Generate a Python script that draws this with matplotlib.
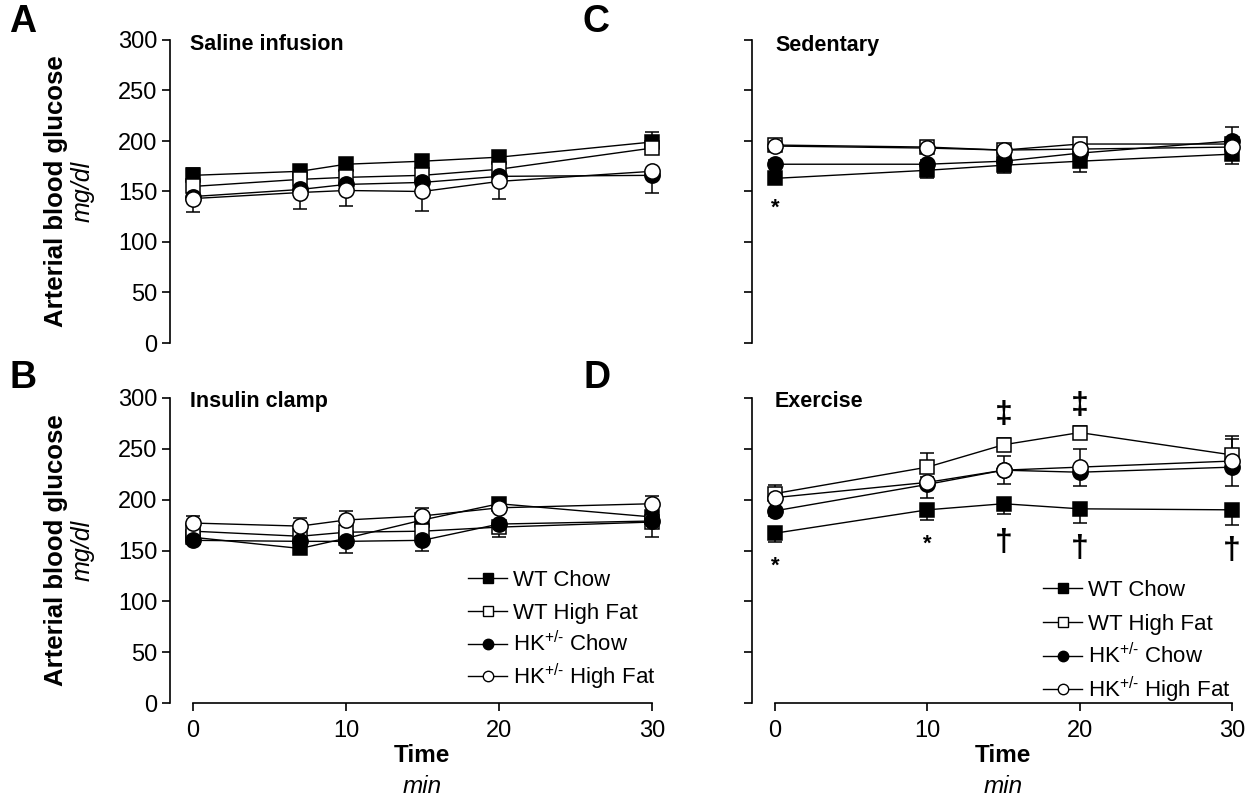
import matplotlib
matplotlib.use('Agg')
import matplotlib.pyplot as plt
from matplotlib.lines import Line2D

plt.rcParams['font.family'] = ['Liberation Sans', 'DejaVu Sans']
plt.rcParams['mathtext.fontset'] = 'custom'
plt.rcParams['mathtext.rm'] = 'Liberation Sans'
plt.rcParams['mathtext.it'] = 'Liberation Sans:italic'
plt.rcParams['mathtext.bf'] = 'Liberation Sans:bold'

# ---------------- data ----------------
groups = ['WT Chow', 'WT High Fat', r'HK$^{\text{+/-}}$ Chow', r'HK$^{\text{+/-}}$ High Fat']

time_saline = [0, 7, 10, 15, 20, 30]
sal_wt_chow = [166, 170, 177, 180, 184, 199]
sal_wt_hf = [155, 162, 164, 166, 172, 193]
sal_hk_chow = [145, 152, 157, 159, 165, 166]
sal_hk_hf = [143, 149, 151, 150, 160, 170]
sal_wt_chow_sem = [7, 4, 4, 4, 4, 10]
sal_wt_hf_sem = [4, 4, 4, 4, 4, 12]
sal_hk_chow_sem = [5, 5, 5, 5, 5, 17]
sal_hk_hf_sem = [13, 16, 15, 19, 17, 6]

time_clamp = [0, 7, 10, 15, 20, 30]
clp_wt_chow = [163, 152, 162, 180, 196, 183]
clp_wt_hf = [169, 164, 168, 169, 173, 178]
clp_hk_chow = [160, 159, 159, 160, 176, 179]
clp_hk_hf = [177, 174, 180, 184, 192, 196]
clp_wt_chow_sem = [3, 3, 3, 3, 6, 4]
clp_wt_hf_sem = [4, 4, 4, 4, 10, 4]
clp_hk_chow_sem = [4, 4, 11, 10, 4, 16]
clp_hk_hf_sem = [7, 8, 9, 8, 6, 8]

time_exercise = [0, 10, 15, 20, 30]
sed_wt_chow = [163, 171, 176, 180, 187]
sed_wt_hf = [196, 194, 191, 197, 197]
sed_hk_chow = [177, 177, 180, 188, 200]
sed_hk_hf = [195, 193, 191, 192, 194]
sed_wt_chow_sem = [5, 8, 8, 11, 10]
sed_wt_hf_sem = [4, 4, 3, 5, 4]
sed_hk_chow_sem = [4, 4, 4, 4, 14]
sed_hk_hf_sem = [3, 3, 3, 3, 3]

exe_wt_chow = [167, 190, 196, 191, 190]
exe_wt_hf = [206, 232, 254, 266, 244]
exe_hk_chow = [189, 215, 229, 227, 232]
exe_hk_hf = [202, 217, 229, 232, 238]
exe_wt_chow_sem = [9, 10, 10, 14, 15]
exe_wt_hf_sem = [8, 14, 7, 6, 19]
exe_hk_chow_sem = [5, 13, 14, 14, 19]
exe_hk_hf_sem = [5, 5, 14, 18, 22]

# significance marks
sed_sig_x = [0]
sed_sig_y = [133]
sed_sig_txt = ['*']
exe_sig_x = [0, 10, 15, 20, 30, 15, 20]
exe_sig_y = [135, 156, 157, 151, 150, 283, 292]
exe_sig_txt = ['*', '*', '\u2020', '\u2020', '\u2020', '\u2021', '\u2021']

yticks = [0, 50, 100, 150, 200, 250, 300]
xticks = [0, 10, 20, 30]

# ---------------- layout ----------------
W, H = 1258, 805
fig = plt.figure(figsize=(W / 100, H / 100), dpi=100)


def rect(l, r, t, b):
    return [l / W, 1 - b / H, (r - l) / W, (b - t) / H]


def px2fig(x, y):
    return x / W, 1 - y / H


markers = ['s', 's', 'o', 'o']
faces = ['black', 'white', 'black', 'white']


def panel(r, xlo, xhi, bottom_axis, left_labels, t, means, sems, dirs):
    ax = fig.add_axes(r)
    ax.set_xlim(xlo, xhi)
    ax.set_ylim(0, 300)
    for s in ['top', 'right']:
        ax.spines[s].set_visible(False)
    ax.spines['left'].set_bounds(0, 300)
    ax.spines['left'].set_linewidth(1.2)
    ax.set_yticks(yticks)
    ax.tick_params(axis='y', direction='out', length=6, width=1.2,
                   labelsize=17, pad=3, labelleft=left_labels)
    if bottom_axis:
        ax.spines['bottom'].set_bounds(0, 30)
        ax.spines['bottom'].set_linewidth(1.2)
        ax.set_xticks(xticks)
        ax.tick_params(axis='x', direction='out', length=6, width=1.2,
                       labelsize=17, pad=6)
    else:
        ax.spines['bottom'].set_visible(False)
        ax.set_xticks([])
    ax.patch.set_visible(False)
    for m, s, d in zip(means, sems, dirs):
        lo = s if d == 'down' else [0] * len(s)
        up = s if d == 'up' else [0] * len(s)
        ax.errorbar(t, m, yerr=[lo, up], fmt='none', ecolor='black',
                    elinewidth=1.1, capsize=5, capthick=1.1, zorder=2,
                    clip_on=False)
    for i, m in enumerate(means):
        ax.plot(t, m, color='black', lw=1.0, marker=markers[i],
                ms=10.5 if markers[i] == 's' else 11,
                mfc=faces[i], mec='black', mew=1.1,
                zorder=3 + i, clip_on=False, label=groups[i])
    return ax


L = (-23 / 15.3, 30 + 3 / 15.3)
R = (-23 / 15.233, 30 + 3 / 15.233)

axA = panel(rect(170, 655, 40, 343), *L, False, True, time_saline,
            [sal_wt_chow, sal_wt_hf, sal_hk_chow, sal_hk_hf],
            [sal_wt_chow_sem, sal_wt_hf_sem, sal_hk_chow_sem, sal_hk_hf_sem],
            ['up', 'up', 'down', 'down'])
axB = panel(rect(170, 655, 398, 703), *L, True, True, time_clamp,
            [clp_wt_chow, clp_wt_hf, clp_hk_chow, clp_hk_hf],
            [clp_wt_chow_sem, clp_wt_hf_sem, clp_hk_chow_sem, clp_hk_hf_sem],
            ['up', 'down', 'down', 'up'])
axC = panel(rect(752, 1235, 40, 343), *R, False, False, time_exercise,
            [sed_wt_chow, sed_wt_hf, sed_hk_chow, sed_hk_hf],
            [sed_wt_chow_sem, sed_wt_hf_sem, sed_hk_chow_sem, sed_hk_hf_sem],
            ['down', 'up', 'up', 'up'])
axD = panel(rect(752, 1235, 398, 703), *R, True, False, time_exercise,
            [exe_wt_chow, exe_wt_hf, exe_hk_chow, exe_hk_hf],
            [exe_wt_chow_sem, exe_wt_hf_sem, exe_hk_chow_sem, exe_hk_hf_sem],
            ['down', 'up', 'down', 'up'])

for x, y, s in zip(sed_sig_x, sed_sig_y, sed_sig_txt):
    axC.text(x, y, s, ha='center', va='center', fontsize=16,
             fontweight='bold')
for x, y, s in zip(exe_sig_x, exe_sig_y, exe_sig_txt):
    fs = 16 if s == '*' else 23
    axD.text(x, y, s, ha='center', va='center', fontsize=fs,
             fontweight='bold')


# legends (uniform row spacing, as in the original)
def legend_block(x0, y0, dy):
    for i, lab in enumerate(groups):
        yc = y0 + i * dy
        x1, y1 = px2fig(x0, yc)
        x2, _ = px2fig(x0 + 39, yc)
        xm, _ = px2fig(x0 + 19.5, yc)
        fig.add_artist(Line2D([x1, x2], [y1, y1], color='black', lw=1.0,
                              transform=fig.transFigure))
        fig.add_artist(Line2D([xm], [y1], marker=markers[i], ms=7.5,
                              mfc=faces[i], mec='black', mew=1.0,
                              transform=fig.transFigure))
        fig.text(*px2fig(x0 + 45, yc + 8), lab, fontsize=16,
                 ha='left', va='baseline')


legend_block(468, 578, 32.8)
legend_block(1043, 588, 33.8)

# panel letters and titles
for s, x, y in [('A', 9, 22), ('B', 9, 378), ('C', 583, 22), ('D', 583, 378)]:
    fig.text(*px2fig(x, y), s, fontsize=27, fontweight='bold',
             ha='left', va='center')
for s, x, y in [('Saline infusion', 190, 45), ('Insulin clamp', 190, 401),
                ('Sedentary', 775, 45), ('Exercise', 775, 401)]:
    fig.text(*px2fig(x, y), s, fontsize=15.5, fontweight='bold',
             ha='left', va='center')

# axis labels
for yc in [191, 550]:
    fig.text(*px2fig(56, yc), 'Arterial blood glucose', rotation=90,
             fontsize=18.5, fontweight='bold', ha='center', va='center')
    fig.text(*px2fig(83, yc), 'mg/dl', rotation=90, fontsize=18,
             fontstyle='italic', ha='center', va='center')
for xc in [422, 1003]:
    fig.text(*px2fig(xc, 755), 'Time', fontsize=17.5, fontweight='bold',
             ha='center', va='center')
    fig.text(*px2fig(xc, 786), 'min', fontsize=17.5, fontstyle='italic',
             ha='center', va='center')

fig.savefig('out.png', dpi=100)
